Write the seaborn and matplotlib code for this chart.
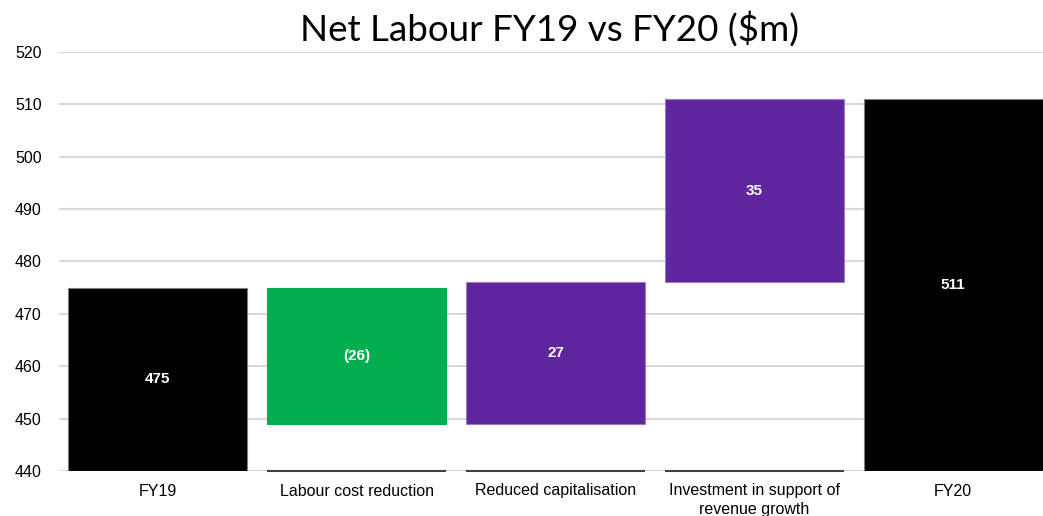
import matplotlib
matplotlib.use("Agg")
import matplotlib.pyplot as plt
import seaborn as sns
import pandas as pd

categories = ["FY19", "Labour cost reduction", "Reduced capitalisation",
              "Investment in support of\nrevenue growth", "FY20"]
bottoms = [440, 449, 449, 476, 440]
tops = [475, 475, 476, 511, 511]
value_labels = ["475", "(26)", "27", "35", "511"]
colors = ["#000000", "#00AE50", "#5F259F", "#5F259F", "#000000"]
edge_colors = ["#7f7f7f", "#00AE50", "#9a7cc6", "#9a7cc6", "#7f7f7f"]
y_ticks = [440, 450, 460, 470, 480, 490, 500, 510, 520]

sns.set_theme(style="white")
plt.rcParams["font.family"] = ["Liberation Sans", "DejaVu Sans"]

df = pd.DataFrame({"category": categories, "top": tops, "bottom": bottoms})

fig = plt.figure(figsize=(10.43, 5.16), dpi=100)
ax = fig.add_axes([58.5 / 1043, 1 - 471 / 516, (1043 - 58.5) / 1043, (471 - 52) / 516])

sns.barplot(data=df, x="category", y="top", hue="category", palette=colors,
            width=0.9, legend=False, ax=ax, saturation=1, linewidth=0.8)

# turn the plain bars into floating waterfall steps
for patch, lo, hi, ec in zip(ax.patches, bottoms, tops, edge_colors):
    patch.set_y(lo)
    patch.set_height(hi - lo)
    patch.set_edgecolor(ec)

ax.set_ylim(440, 520)
ax.set_xlim(-0.5, 4 + (1043 - 953) / 199)
ax.set_yticks(y_ticks)
ax.yaxis.grid(True, color="#d9d9d9", linewidth=1.5)
ax.set_axisbelow(True)
for s in ax.spines.values():
    s.set_visible(False)

ymin = ax.get_ylim()[0]
for i, patch in enumerate(ax.patches):
    x0 = patch.get_x()
    x1 = x0 + patch.get_width()
    if bottoms[i] > ymin:
        ax.hlines(ymin, x0, x1, color="#404040", linewidth=1.5, clip_on=False, zorder=3)
    ax.text(x0 + patch.get_width() / 2, bottoms[i] + patch.get_height() / 2,
            value_labels[i], ha="center", va="center",
            color="white", fontsize=11, fontweight="bold")

ax.tick_params(axis="both", length=0, labelsize=11.5, colors="black")
ax.tick_params(axis="y", pad=12)
ax.tick_params(axis="x", pad=9)
for lbl in ax.get_xticklabels():
    lbl.set_linespacing(1.3)
ax.set_xlabel("")
ax.set_ylabel("")

fig.text(0.527, 0.945, "Net Labour FY19 vs FY20 ($m)", ha="center", va="center",
         fontsize=26.5, family=["Lato", "DejaVu Sans"], color="black")

fig.savefig("out.png", dpi=100)
